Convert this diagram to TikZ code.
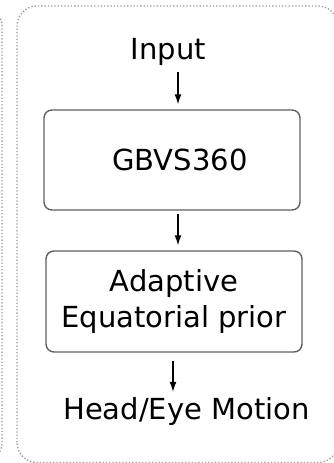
\documentclass[tikz,border=0pt]{standalone}
\usepackage{fontspec}
\setmainfont{DejaVu Sans}
\usetikzlibrary{arrows.meta}

\tikzset{
    stage/.style={draw=gray!75!black, line width=1.4pt, rounded corners=8pt, minimum width=256pt, align=center, inner sep=0pt, font=\fontsize{29}{36}\selectfont},
    label/.style={inner sep=0pt, anchor=base, font=\fontsize{29}{36}\selectfont},
    flow/.style={line width=1.3pt, -{Latex[length=10pt,width=7pt]}},
    frame/.style={gray!80, line width=1.3pt, dotted, rounded corners=20pt}
}

\begin{document}
\begin{tikzpicture}[x=1pt, y=1pt]
    \useasboundingbox (0,0) rectangle (333,463);

    % frames
    \draw[frame] (-200,0.5) rectangle (2,457);
    \draw[frame] (17,0.5) rectangle (338,457);

    \node[label] (input) at (168.5,403) {Input};
    \node[stage, minimum height=100pt] (gbvs) at (172,303) {\hspace*{16pt}GBVS360};
    \node[stage, minimum height=101pt] (prior) at (174,161.5) {Adaptive\\Equatorial prior};
    \node[label] (motion) at (186.5,43) {Head/Eye Motion};

    \draw[flow, shorten <=6pt, shorten >=5pt] ([xshift=6pt]gbvs.north |- input.south) -- ([xshift=6pt]gbvs.north);
    \draw[flow, shorten <=3pt, shorten >=5pt] ([xshift=6pt]gbvs.south) -- ([xshift=6pt]gbvs.south |- prior.north);
    \draw[flow, shorten <=8pt, shorten >=6pt] ([xshift=-1pt]prior.south) -- ([xshift=-1pt]prior.south |- motion.north);
\end{tikzpicture}
\end{document}
